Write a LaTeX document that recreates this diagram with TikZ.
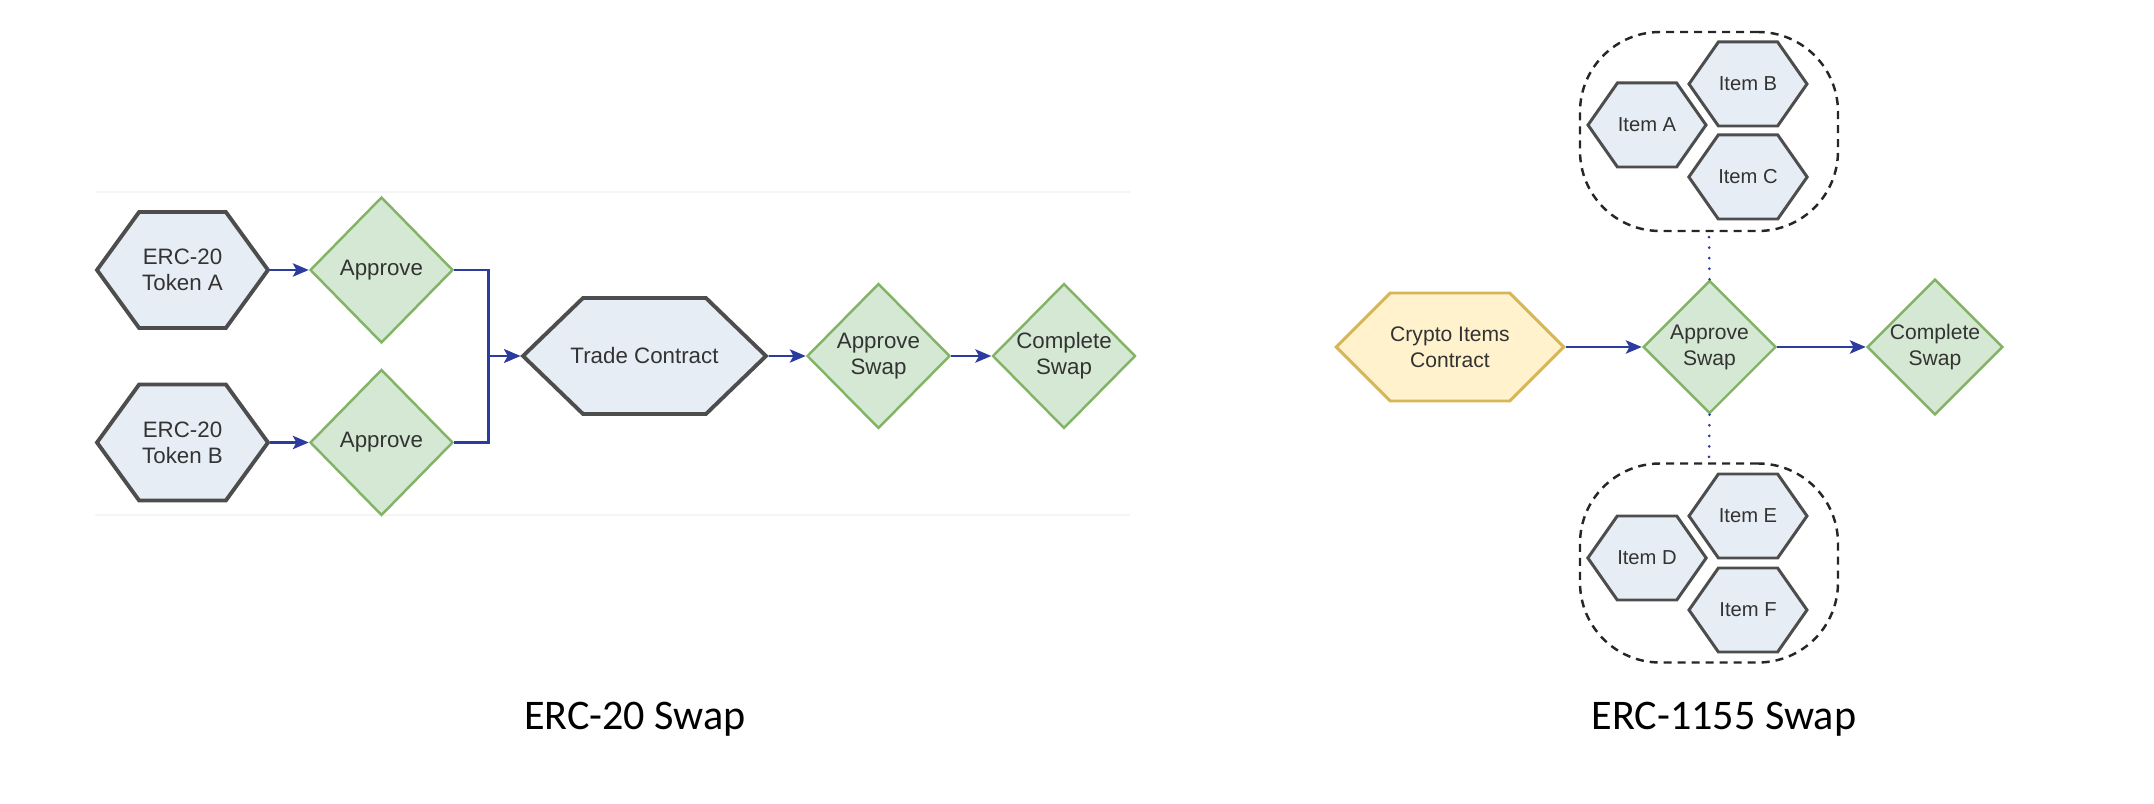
\documentclass[tikz,border=0pt]{standalone}
\usepackage{fontspec}
\setmainfont{Liberation Sans}
\newfontfamily\capfont{Carlito}
\usetikzlibrary{arrows.meta,shapes.geometric,shapes.symbols}
\definecolor{hexfill}{HTML}{E6EDF5}
\definecolor{hexline}{HTML}{4D4D4D}
\definecolor{okfill}{HTML}{D5E8D4}
\definecolor{okline}{HTML}{82B366}
\definecolor{goldfill}{HTML}{FFF2CC}
\definecolor{goldline}{HTML}{D6B656}
\definecolor{flow}{HTML}{2C3C9E}
\definecolor{txt}{HTML}{333333}
\tikzset{
  shp/.style = {align=center, inner sep=0pt, text centered, text=txt},
  hex/.style = {shp, shape=signal, signal to=west and east, draw=hexline,
    fill=hexfill, line width=2.2pt},% gray hexagon
  ok/.style = {shp, diamond, draw=okline, fill=okfill, line width=1.4pt},% green diamond
  bigtxt/.style = {font=\fontsize{12.7}{15}\selectfont},
  smalltxt/.style = {font=\fontsize{12}{14.8}\selectfont},
  item/.style = {hex, line width=1.7pt, signal pointer angle=110,
    minimum width=23.6mm, minimum height=16.8mm,
    font=\fontsize{11.5}{14}\selectfont},
  bag/.style = {draw=black!85, line width=1.4pt, dash pattern=on 1.6mm off 1.2mm,
    rounded corners=16mm, minimum width=51.6mm, minimum height=39.8mm},% dashed group
  link/.style = {->, >={Stealth[length=9pt,width=7.5pt,inset=2pt]}, draw=flow,
    line width=1.7pt},
  dots/.style = {draw=flow, line width=1.7pt, dash pattern=on 0pt off 6pt,
    line cap=round},
  caption/.style = {anchor=base, font=\capfont\fontsize{24}{28}\selectfont}
}

\begin{document}
\begin{tikzpicture}[x=0.2mm, y=-0.2mm]
\useasboundingbox (0,0) rectangle (2154,804);
% traces of the cropped screenshot
\draw[black!4, line width=1pt] (95,192) -- (1130,192);
\draw[black!4, line width=1pt] (95,515) -- (1130,515);

% ERC-20 swap
\node[hex, bigtxt, signal pointer angle=108, minimum width=34.2mm, minimum height=23.2mm]
  (tokA) at (182.5,270) {ERC-20\\Token A};
\node[hex, bigtxt, signal pointer angle=108, minimum width=34.2mm, minimum height=23.2mm]
  (tokB) at (182.5,442.5) {ERC-20\\Token B};
\node[ok, bigtxt, minimum width=28.6mm, minimum height=29.2mm] (appA) at (381.5,270) {Approve};
\node[ok, bigtxt, minimum width=28.6mm, minimum height=29.2mm] (appB) at (381.5,442.5) {Approve};
\node[hex, bigtxt, signal pointer angle=88, inner xsep=-2.6mm, minimum width=48.6mm,
  minimum height=23.2mm] (trade) at (644.5,356) {Trade Contract};
\node[ok, bigtxt, minimum width=28.6mm, minimum height=29mm] (swapA) at (878.5,356) {Approve\\Swap};
\node[ok, bigtxt, minimum width=28.6mm, minimum height=29mm] (doneA) at (1064,356) {Complete\\Swap};

\draw[link] (tokA.east) -- (appA.west);
\draw[link] (tokB.east) -- (appB.west);
\draw[link] (appA.east) -- ++(34,0) |- (trade.west);
\draw[link] (appB.east) -- ++(34,0) |- (trade.west);
\draw[link] (trade.east) -- (swapA.west);
\draw[link] (swapA.east) -- (doneA.west);

% ERC-1155 swap
\node[hex, smalltxt, draw=goldline, fill=goldfill, line width=1.7pt, signal pointer angle=90,
  minimum width=45.4mm, minimum height=21.6mm] (crypto) at (1450,347) {Crypto Items\\Contract};
\node[ok, smalltxt, minimum width=26.6mm, minimum height=26.6mm] (swapB) at (1709.5,347) {Approve\\Swap};
\node[ok, smalltxt, minimum width=26.6mm, minimum height=26.6mm] (doneB) at (1935,347) {Complete\\Swap};

\node[bag] (bagTop) at (1709,131.5) {};
\node[item] (itemA) at (1647,125) {Item A};
\node[item] (itemB) at (1748,84) {Item B};
\node[item] (itemC) at (1748,177) {Item C};

\node[bag] (bagBot) at (1709,563) {};
\node[item] (itemD) at (1647,558) {Item D};
\node[item] (itemE) at (1748,516) {Item E};
\node[item] (itemF) at (1748,610) {Item F};

\draw[link] (crypto.east) -- (swapB.west);
\draw[link] (swapB.east) -- (doneB.west);
\draw[dots] (swapB.north) -- (bagTop.south);
\draw[dots] (swapB.south) -- (bagBot.north);

% captions
\node[caption] (capL) at (635,730) {ERC-20 Swap};
\node[caption] (capR) at (1724,730) {ERC-1155 Swap};
\end{tikzpicture}
\end{document}
